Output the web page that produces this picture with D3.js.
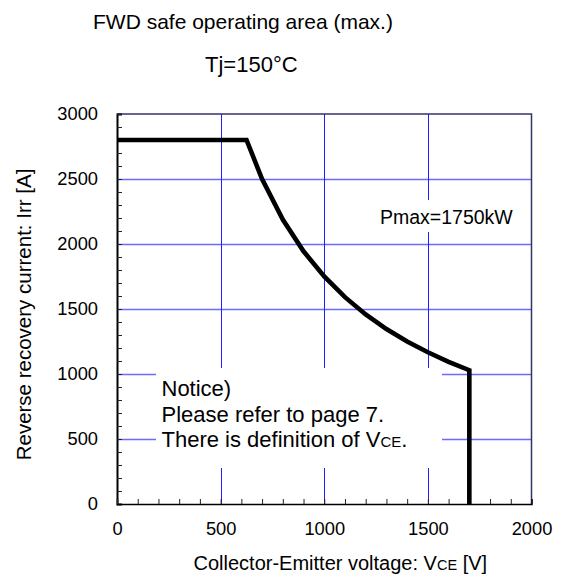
<!DOCTYPE html>
<html>
<head>
<meta charset="utf-8">
<script src="https://cdn.jsdelivr.net/npm/d3@7"></script>
<style>
  html, body { margin: 0; padding: 0; background: #fff; }
  svg { display: block; font-family: "Liberation Sans", Arial, sans-serif; }
</style>
</head>
<body>
<svg id="chart" width="561" height="574"></svg>
<script>
// Safe operating area boundary: collector-emitter voltage [V] vs reverse recovery current [A]
const voltage = [0, 625, 700, 800, 900, 1000, 1100, 1200, 1300, 1400, 1500, 1600, 1700, 1700];
const current = [2800, 2800, 2500, 2188, 1944, 1750, 1591, 1458, 1346, 1250, 1167, 1094, 1029, 0];

const xTicks = [0, 500, 1000, 1500, 2000];
const yTicks = [0, 500, 1000, 1500, 2000, 2500, 3000];
const xMinor = d3.range(0, 2001, 100);
const yMinor = d3.range(0, 3001, 100);

const title = "FWD safe operating area (max.)";
const subtitle = "Tj=150°C";
const powerLabel = "Pmax=1750kW";
const noticeLines = ["Notice)", "Please refer to page 7.", "There is definition of V"];

const svg = d3.select("#chart");
const plotL = 117, plotR = 531.5, plotT = 114, plotB = 504;

const x = d3.scaleLinear().domain([0, 2000]).range([plotL, plotR]);
const y = d3.scaleLinear().domain([0, 3000]).range([plotB, plotT]);

// grid
const grid = svg.append("g");
grid.selectAll("line.h").data(yTicks.filter(d => d > 0 && d < 3000)).join("line")
  .attr("x1", plotL).attr("x2", plotR)
  .attr("y1", d => Math.round(y(d)) + 0.5).attr("y2", d => Math.round(y(d)) + 0.5)
  .attr("stroke", "#6b6bff").attr("stroke-width", 1.3);
grid.selectAll("line.v").data(xTicks.filter(d => d > 0 && d < 2000)).join("line")
  .attr("y1", plotT).attr("y2", plotB)
  .attr("x1", d => Math.round(x(d)) + 0.5).attr("x2", d => Math.round(x(d)) + 0.5)
  .attr("stroke", "#1f1fff").attr("stroke-width", 1);

// label backgrounds
svg.append("rect").attr("x", 156).attr("y", 368).attr("width", 286).attr("height", 100).attr("fill", "#fff");
svg.append("rect").attr("x", 376).attr("y", 200).attr("width", 140).attr("height", 32).attr("fill", "#fff");

// frame: top and right edges
svg.append("path")
  .attr("d", `M${plotL},${plotT}H${plotR}V${plotB}`)
  .attr("fill", "none").attr("stroke", "#33336b").attr("stroke-width", 1.5);

// axes
const yAxisMinor = d3.axisLeft(y).tickValues(yMinor).tickSize(-5).tickFormat("");
const xAxisMinor = d3.axisBottom(x).tickValues(xMinor).tickSize(-5).tickFormat("");
const gy = svg.append("g").attr("transform", `translate(${plotL},0)`).call(yAxisMinor);
const gx = svg.append("g").attr("transform", `translate(0,${plotB})`).call(xAxisMinor);
gy.select(".domain").attr("stroke", "#000").attr("stroke-width", 2);
gx.select(".domain").attr("stroke", "#000").attr("stroke-width", 1.5);
gy.selectAll(".tick line").attr("stroke", "#222");
gx.selectAll(".tick line").attr("stroke", "#222");

const fmt = d3.format("d");
const yLab = svg.append("g").attr("transform", `translate(${plotL},0)`)
  .call(d3.axisLeft(y).tickValues(yTicks).tickFormat(fmt).tickSize(0).tickPadding(19));
const xLab = svg.append("g").attr("transform", `translate(0,${plotB})`)
  .call(d3.axisBottom(x).tickValues(xTicks).tickFormat(fmt).tickSize(0).tickPadding(18));
[yLab, xLab].forEach(g => {
  g.select(".domain").remove();
  g.selectAll("text").attr("font-size", 18.3).attr("font-family", "Liberation Sans, Arial, sans-serif").attr("fill", "#000");
});

// boundary curve
const line = d3.line().x((d, i) => x(voltage[i])).y((d, i) => y(current[i]));
svg.append("path").datum(voltage)
  .attr("d", line)
  .attr("fill", "none").attr("stroke", "#000").attr("stroke-width", 4.6)
  .attr("stroke-linejoin", "miter");

// texts
const text = (tx, ty, s, size, anchor) => svg.append("text")
  .attr("x", tx).attr("y", ty).attr("font-size", size).attr("fill", "#000")
  .attr("text-anchor", anchor || "start").text(s);

text(93, 29, title, 21);
text(205, 71.5, subtitle, 22);
text(380, 223.5, powerLabel, 19.5);

noticeLines.forEach((s, i) => {
  const t = text(161.5, 396 + i * 25.5, s, 22);
  if (i === 2) {
    t.append("tspan").attr("font-size", 15).text("CE");
    t.append("tspan").text(".");
  }
});

const xt = text(193.5, 570, "Collector-Emitter voltage: V", 20);
xt.append("tspan").attr("font-size", 14.5).text("CE");
xt.append("tspan").text(" [V]");

svg.append("text")
  .attr("transform", "translate(31,314.5) rotate(-90)")
  .attr("text-anchor", "middle").attr("font-size", 20.5).attr("fill", "#000")
  .text("Reverse recovery current: Irr [A]");
</script>
</body>
</html>
